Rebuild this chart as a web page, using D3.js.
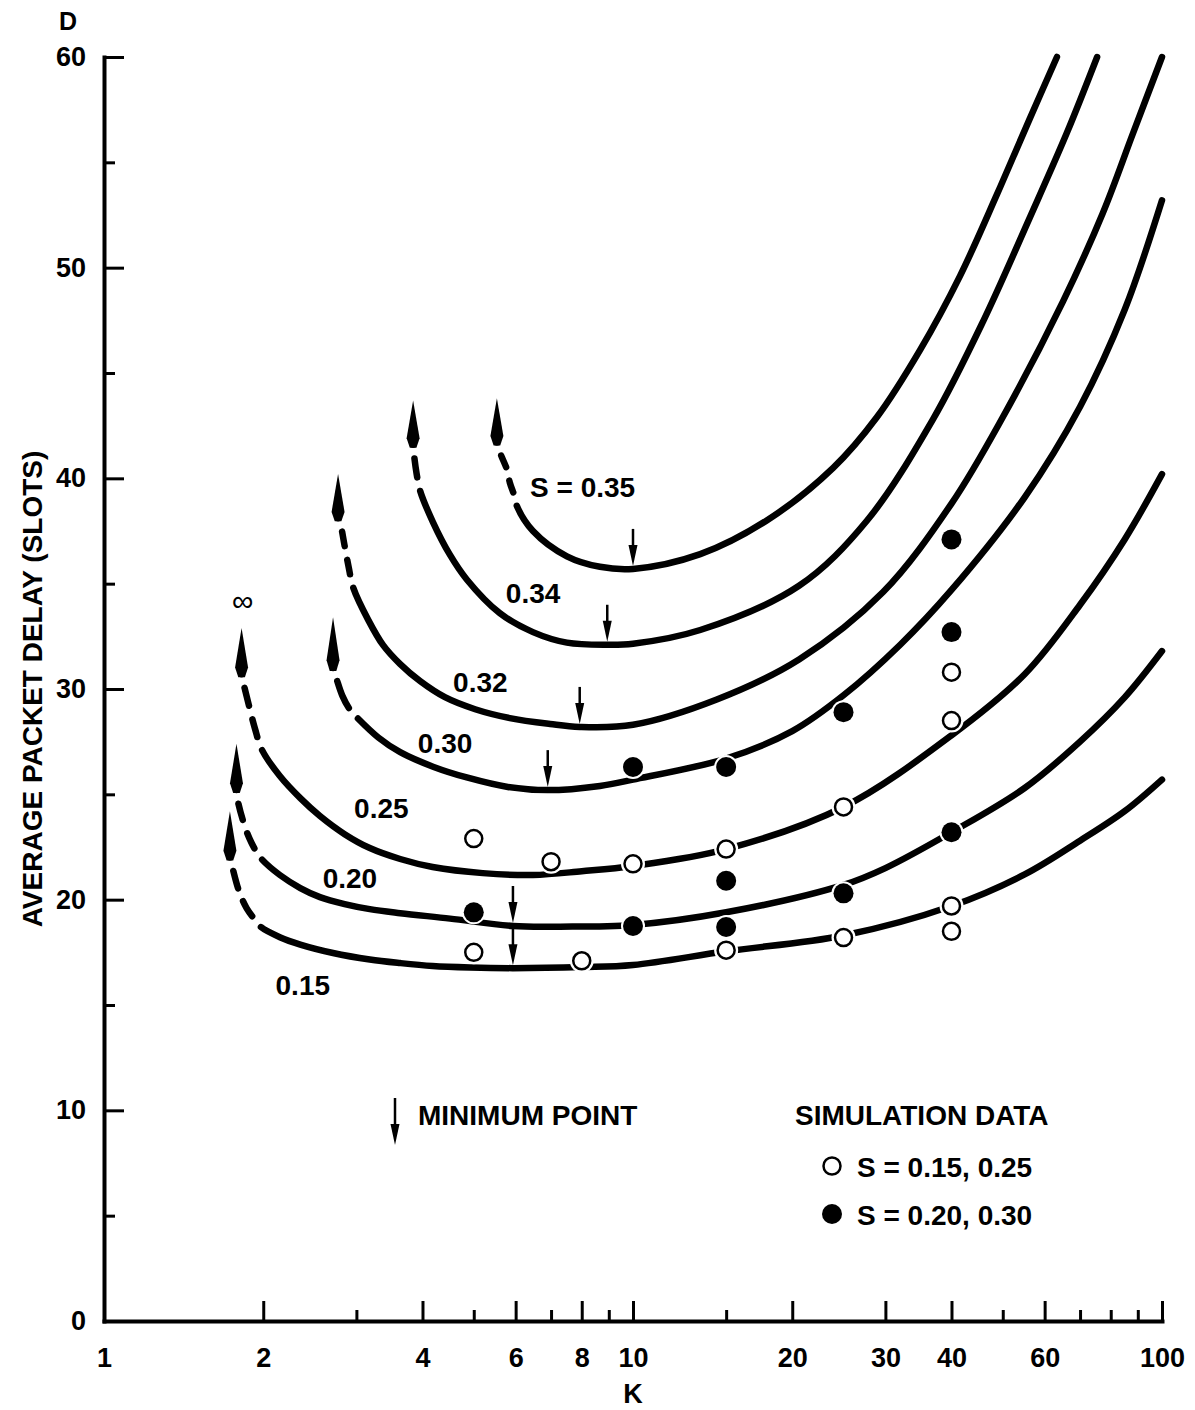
<!DOCTYPE html>
<html>
<head>
<meta charset="utf-8">
<script src="https://cdn.jsdelivr.net/npm/d3@7"></script>
<style>
  body { margin: 0; background: #fff; }
  svg { display: block; background: #fff; }
  text { font-family: "Liberation Sans", Arial, Helvetica, sans-serif; font-weight: bold; fill: #000; }
</style>
</head>
<body>
<svg id="chart" width="1195" height="1410"></svg>
<script>
  /*
   * Values: K (log axis), D (slots)
   */

  // axis ticks
  var K_MAJOR = [1, 2, 4, 6, 8, 10, 20, 30, 40, 60, 100];
  var K_MINOR = [3, 5, 7, 9, 15, 50, 70, 80, 90];
  var D_MAJOR = [0, 10, 20, 30, 40, 50, 60];
  var D_MINOR = [5, 15, 25, 35, 45, 55];

  // throughput values, one curve each
  var S_VALUES = ["0.15", "0.20", "0.25", "0.30", "0.32", "0.34", "0.35"];

  // arrow tips at the top of the dashed (unstable) part
  var TIPS = [[1.73, 24.2], [1.78, 27.4], [1.82, 32.9], [2.71, 33.4], [2.77, 40.2], [3.84, 43.7], [5.53, 43.8]];

  // dashed parts
  var DASH_015 = [[1.73, 22.0], [1.75, 21.5], [1.80, 20.4], [1.86, 19.6], [1.95, 18.9], [1.98, 18.7]];
  var DASH_020 = [[1.78, 25.2], [1.79, 24.7], [1.85, 23.4], [1.90, 22.7], [1.95, 22.2], [1.99, 21.9]];
  var DASH_025 = [[1.82, 30.7], [1.83, 30.4], [1.88, 29.2], [1.93, 28.1], [1.99, 27.1]];
  var DASH_030 = [[2.71, 31.0], [2.75, 30.5], [2.82, 29.7], [2.92, 29.0], [3.02, 28.6]];
  var DASH_032 = [[2.77, 38.1], [2.80, 37.8], [2.85, 36.8], [2.90, 35.8], [2.96, 34.8]];
  var DASH_034 = [[3.84, 41.6], [3.86, 41.0], [3.90, 40.2], [3.96, 39.4]];
  var DASH_035 = [[5.53, 41.7], [5.61, 41.2], [5.78, 40.4], [5.85, 39.8], [5.98, 39.1], [6.03, 38.7]];

  // solid parts
  var SOLID_015 = [[1.98, 18.7], [2.15, 18.22], [2.35, 17.87], [2.71, 17.47], [3.18, 17.16], [3.63, 16.99],
    [4.18, 16.85], [4.92, 16.78], [5.93, 16.75], [8, 16.8], [10, 16.9], [15, 17.55], [25, 18.3], [40, 19.7],
    [55, 21.2], [70, 22.8], [85, 24.2], [100, 25.7]];
  var SOLID_020 = [[1.99, 21.9], [2.15, 21.17], [2.35, 20.55], [2.56, 20.12], [2.85, 19.79], [3.18, 19.55],
    [3.63, 19.36], [4.51, 19.1], [5.93, 18.75], [7.28, 18.72], [10, 18.8], [15, 19.4], [25, 20.7], [30, 21.5],
    [40, 23.2], [55, 25.3], [70, 27.5], [85, 29.6], [100, 31.8]];
  var SOLID_025 = [[1.99, 27.1], [2.15, 25.87], [2.35, 24.82], [2.56, 23.97], [2.85, 23.11], [3.18, 22.45],
    [3.63, 21.93], [4.18, 21.55], [5.2, 21.26], [6.47, 21.17], [8, 21.35], [10, 21.6], [15, 22.4], [25, 24.4],
    [40, 27.8], [55, 30.7], [70, 34.0], [85, 37.1], [100, 40.2]];
  var SOLID_030 = [[3.02, 28.6], [3.3, 27.7], [3.63, 27.0], [4.2, 26.3], [4.85, 25.8], [5.8, 25.35], [6.9, 25.2],
    [8.66, 25.4], [10, 25.7], [15, 26.7], [20, 28.0], [25, 29.7], [32, 32.1], [40, 34.7], [55, 39.1], [70, 43.4],
    [85, 48.0], [100, 53.2]];
  var SOLID_032 = [[2.96, 34.8], [3.16, 33.27], [3.37, 32.08], [3.63, 31.18], [3.96, 30.37], [4.41, 29.61],
    [5.03, 29.04], [5.85, 28.62], [6.97, 28.34], [7.93, 28.2], [10, 28.3], [14.4, 29.5], [20.6, 31.4],
    [29.7, 34.6], [40, 38.8], [50, 42.9], [65, 48.4], [77.3, 52.6], [88.2, 56.4], [100, 60]];
  var SOLID_034 = [[3.96, 39.4], [4.19, 37.9], [4.5, 36.4], [4.85, 35.2], [5.6, 33.6], [6.47, 32.7], [7.5, 32.2],
    [8.94, 32.1], [10, 32.15], [13.4, 32.8], [20.6, 34.9], [27.7, 38.0], [36.9, 42.8], [46, 47.5], [56.3, 52.4],
    [66.1, 56.4], [75.4, 60]];
  var SOLID_035 = [[6.03, 38.7], [6.47, 37.5], [7.5, 36.3], [8.66, 35.8], [10, 35.7], [13.4, 36.4], [17.9, 38.0],
    [23.9, 40.5], [28.9, 42.9], [34.9, 46.1], [41.5, 49.6], [48.8, 53.5], [56.3, 57.1], [63.3, 60]];

  // minimum points (marked with small arrows)
  var MINIMA = [[10, 35.7], [8.94, 32.1], [7.93, 28.2], [6.9, 25.2], [5.93, 18.75], [5.93, 16.75]];

  // simulation data
  var OPEN_PTS = [[5, 22.9], [5, 17.5], [7, 21.8], [8, 17.1], [10, 21.7], [15, 22.4], [15, 17.6],
    [25, 24.4], [25, 18.2], [40, 30.8], [40, 28.5], [40, 19.7], [40, 18.5]];
  var FILLED_PTS = [[5, 19.4], [10, 26.3], [10, 18.75], [15, 26.3], [15, 20.9], [15, 18.7],
    [25, 28.9], [25, 20.3], [40, 37.1], [40, 32.7], [40, 23.2]];

  // curve labels: text, K and D of the label's left baseline
  var LABELS = [["S = 0.35", 6.39, 39.1], ["0.34", 5.75, 34.1], ["0.32", 4.57, 29.85], ["0.30", 3.92, 26.96],
    ["0.25", 2.97, 23.87], ["0.20", 2.59, 20.55], ["0.15", 2.11, 15.47]];

  var DASHES = [DASH_015, DASH_020, DASH_025, DASH_030, DASH_032, DASH_034, DASH_035];
  var SOLIDS = [SOLID_015, SOLID_020, SOLID_025, SOLID_030, SOLID_032, SOLID_034, SOLID_035];

  var curves = S_VALUES.map(function (s, i) {
    return { s: s, tip: TIPS[i], dash: DASHES[i], solid: SOLIDS[i] };
  });

  /*
   * Drawing
   */

  var LINE_W = 6.5;
  var DASH_ON = 19, DASH_OFF = 14;

  var svg = d3.select("#chart");
  var x = d3.scaleLog().domain([1, 100]).range([104, 1162]);
  var y = d3.scaleLinear().domain([0, 60]).range([1321, 57]);

  var line = d3.line()
    .x(function (d) { return x(d[0]); })
    .y(function (d) { return y(d[1]); })
    .curve(d3.curveCatmullRom.alpha(0.5));

  // x axis
  svg.append("g")
    .attr("transform", "translate(0," + y(0) + ")")
    .call(d3.axisBottom(x).tickValues(K_MAJOR).tickFormat(d3.format("d"))
      .tickSizeInner(-20).tickSizeOuter(0).tickPadding(27));
  svg.append("g")
    .attr("class", "minor")
    .attr("transform", "translate(0," + y(0) + ")")
    .call(d3.axisBottom(x).tickValues(K_MINOR).tickFormat("")
      .tickSizeInner(-11).tickSizeOuter(0));

  // y axis
  svg.append("g")
    .attr("transform", "translate(" + x(1) + ",0)")
    .call(d3.axisLeft(y).tickValues(D_MAJOR)
      .tickSizeInner(-20).tickSizeOuter(0).tickPadding(18));
  svg.append("g")
    .attr("class", "minor")
    .attr("transform", "translate(" + x(1) + ",0)")
    .call(d3.axisLeft(y).tickValues(D_MINOR).tickFormat("")
      .tickSizeInner(-11).tickSizeOuter(0));

  svg.selectAll(".minor .domain").remove();
  svg.selectAll(".domain")
    .attr("stroke", "#000")
    .attr("stroke-width", 4)
    .attr("stroke-linecap", "square");
  svg.selectAll(".tick line")
    .attr("stroke", "#000")
    .attr("stroke-width", 3);
  svg.selectAll(".tick text")
    .style("font-size", "27px")
    .style("font-weight", "bold");

  // axis titles
  svg.append("text")
    .attr("x", 68).attr("y", 30)
    .attr("text-anchor", "middle")
    .style("font-size", "25px")
    .text("D");
  svg.append("text")
    .attr("x", x(10)).attr("y", 1403)
    .attr("text-anchor", "middle")
    .style("font-size", "27px")
    .text("K");
  svg.append("text")
    .attr("transform", "translate(42," + y(30) + ") rotate(-90)")
    .attr("text-anchor", "middle")
    .style("font-size", "28px")
    .text("AVERAGE PACKET DELAY (SLOTS)");

  // curves: one path each; gap, dashes up to the start of the solid part, then solid
  function dash_pattern(node, endX) {
    var total = node.getTotalLength();
    var lo = 0, hi = total;
    for (var i = 0; i < 40; ++i) {
      var mid = (lo + hi) / 2;
      if (node.getPointAtLength(mid).x < endX) { lo = mid; } else { hi = mid; }
    }
    var n = Math.max(1, Math.round((lo - DASH_OFF) / (DASH_ON + DASH_OFF)));
    var on = (lo - DASH_OFF) / n - DASH_OFF;
    var arr = [0, DASH_OFF];
    for (var j = 0; j < n; ++j) { arr.push(on, DASH_OFF); }
    arr.push(total + 20, 0);
    return arr.join(",");
  }

  var gc = svg.append("g").attr("class", "curves");
  gc.selectAll("path.curve")
      .data(curves)
    .enter().append("path")
      .attr("class", "curve")
      .attr("d", function (c) { return line(c.dash.concat(c.solid.slice(1))); })
      .attr("fill", "none")
      .attr("stroke", "#000")
      .attr("stroke-width", LINE_W)
      .attr("stroke-linecap", "round")
      .each(function (c) {
        var last = c.dash[c.dash.length - 1];
        d3.select(this).attr("stroke-dasharray", dash_pattern(this, x(last[0])));
      });

  // upward arrows at the top of the dashed parts
  function arrow_up(cx, tipY, baseY) {
    var h = baseY - tipY;
    return "M" + cx + "," + tipY +
      "L" + (cx + 6.5) + "," + (tipY + h * 0.8) +
      "L" + (cx + 3.3) + "," + baseY +
      "L" + (cx - 3.3) + "," + baseY +
      "L" + (cx - 6.5) + "," + (tipY + h * 0.8) + "Z";
  }
  gc.selectAll("path.up")
      .data(curves)
    .enter().append("path")
      .attr("class", "up")
      .attr("d", function (c) {
        return arrow_up(x(c.tip[0]), y(c.tip[1]), y(c.dash[0][1]) + 3);
      })
      .attr("fill", "#000");

  // infinity mark above the 0.25 curve
  svg.append("text")
    .attr("x", x(TIPS[2][0]) + 1)
    .attr("y", y(TIPS[2][1]) - 27)
    .attr("text-anchor", "middle")
    .attr("dominant-baseline", "central")
    .style("font-weight", "normal")
    .style("font-size", "30px")
    .text("\u221e");

  // small downward arrows
  function arrow_down(g, cx, tipY, len) {
    g.append("line")
      .attr("x1", cx).attr("x2", cx)
      .attr("y1", tipY - len).attr("y2", tipY - 16)
      .attr("stroke", "#000")
      .attr("stroke-width", 2.5);
    g.append("path")
      .attr("d", "M" + cx + "," + tipY + "L" + (cx - 4.5) + "," + (tipY - 21) +
        "L" + (cx + 4.5) + "," + (tipY - 21) + "Z")
      .attr("fill", "#000");
  }
  var gm = svg.append("g").attr("class", "minima");
  MINIMA.forEach(function (m) {
    arrow_down(gm, x(m[0]), y(m[1]) - 3, 37);
  });

  // curve labels
  svg.append("g").selectAll("text")
      .data(LABELS)
    .enter().append("text")
      .attr("x", function (d) { return x(d[1]); })
      .attr("y", function (d) { return y(d[2]); })
      .style("font-size", "28px")
      .text(function (d) { return d[0]; });

  // simulation points, with a white halo that breaks the lines
  var R_OPEN = 8.5, R_FILLED = 10;
  var gp = svg.append("g").attr("class", "points");
  gp.selectAll("circle.halo")
      .data(OPEN_PTS.concat(FILLED_PTS))
    .enter().append("circle")
      .attr("class", "halo")
      .attr("cx", function (d) { return x(d[0]); })
      .attr("cy", function (d) { return y(d[1]); })
      .attr("r", 12)
      .attr("fill", "#fff");
  gp.selectAll("circle.open")
      .data(OPEN_PTS)
    .enter().append("circle")
      .attr("class", "open")
      .attr("cx", function (d) { return x(d[0]); })
      .attr("cy", function (d) { return y(d[1]); })
      .attr("r", R_OPEN)
      .attr("fill", "#fff")
      .attr("stroke", "#000")
      .attr("stroke-width", 2.5);
  gp.selectAll("circle.filled")
      .data(FILLED_PTS)
    .enter().append("circle")
      .attr("class", "filled")
      .attr("cx", function (d) { return x(d[0]); })
      .attr("cy", function (d) { return y(d[1]); })
      .attr("r", R_FILLED)
      .attr("fill", "#000");

  // legend
  var gl = svg.append("g").attr("class", "legend");
  arrow_down(gl, 395, 1145, 47);
  gl.append("text").attr("x", 418).attr("y", 1125)
    .style("font-size", "28px").text("MINIMUM POINT");
  gl.append("text").attr("x", 795).attr("y", 1125)
    .style("font-size", "28px").text("SIMULATION DATA");
  gl.append("circle").attr("cx", 832).attr("cy", 1166).attr("r", R_OPEN)
    .attr("fill", "#fff").attr("stroke", "#000").attr("stroke-width", 2.5);
  gl.append("text").attr("x", 857).attr("y", 1177)
    .style("font-size", "28px").text("S = 0.15, 0.25");
  gl.append("circle").attr("cx", 832).attr("cy", 1214).attr("r", R_FILLED)
    .attr("fill", "#000");
  gl.append("text").attr("x", 857).attr("y", 1225)
    .style("font-size", "28px").text("S = 0.20, 0.30");
</script>
</body>
</html>
